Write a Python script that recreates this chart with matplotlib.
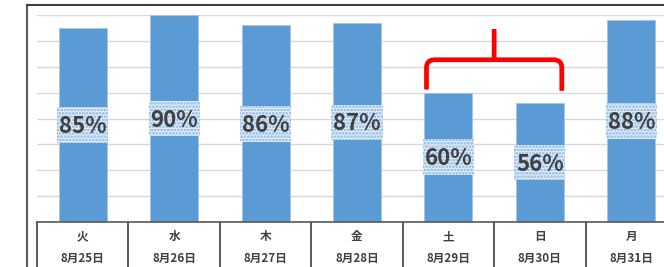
import matplotlib
matplotlib.use("Agg")
import matplotlib.pyplot as plt
from matplotlib.path import Path
from matplotlib.patches import PathPatch, Rectangle
from matplotlib.lines import Line2D

plt.rcParams['font.family'] = ['Noto Sans CJK JP', 'DejaVu Sans']
plt.rcParams['hatch.linewidth'] = 1.3

weekdays = ['火', '水', '木', '金', '土', '日', '月']
dates = ['8月25日', '8月26日', '8月27日', '8月28日', '8月29日', '8月30日', '8月31日']
rates = [0.85, 0.90, 0.86, 0.87, 0.60, 0.56, 0.88]
y_min, y_max, y_step = 0.1, 0.9, 0.1

W, H = 664, 267
fig = plt.figure(figsize=(W / 100, H / 100), dpi=100)
ax = fig.add_axes([37 / W, 45 / H, 640 / W, 207 / H])

x = list(range(len(rates)))
ax.bar(x, rates, width=0.525, color='#5b9bd5', edgecolor='#a5c6e8', linewidth=0.6, zorder=2)
ax.set_xlim(-0.5, len(rates) - 0.5)
ax.set_ylim(y_min, y_max)
n_ticks = int(round((y_max - y_min) / y_step)) + 1
ax.set_yticks([y_min + i * y_step for i in range(n_ticks)])
ax.yaxis.grid(True, color='#d9d9d9', linewidth=1.0, zorder=0)
ax.set_axisbelow(True)
ax.tick_params(left=False, bottom=False, labelleft=False, labelbottom=False)
for s in ['left', 'right', 'top']:
    ax.spines[s].set_visible(False)
ax.spines['bottom'].set_color('#595959')
ax.spines['bottom'].set_linewidth(1.2)

# data labels centred on the visible part of each bar
box_w, box_h = 0.56, 0.138
for xi, v in zip(x, rates):
    yc = (y_min + v) / 2
    ax.add_patch(Rectangle((xi - box_w / 2, yc - box_h / 2), box_w, box_h,
                           facecolor='#e4eef9', edgecolor='#82b2e3', linewidth=0,
                           hatch='.....', zorder=3))
    ax.text(xi, yc - 0.031, f'{v * 100:.0f}%', ha='center', va='baseline',
            fontsize=16, fontweight='bold', color='#404040', zorder=4)

# category table below the axis
xt = ax.get_xaxis_transform()
for xi, (wd, dt) in enumerate(zip(weekdays, dates)):
    ax.text(xi, -0.072, wd, transform=xt, ha='center', va='center',
            fontsize=8.4, fontweight='bold', color='#404040', clip_on=False)
    ax.text(xi, -0.174, dt, transform=xt, ha='center', va='center',
            fontsize=8.4, fontweight='bold', color='#404040', clip_on=False)
for k in range(len(rates) + 1):
    ax.plot([k - 0.5, k - 0.5], [0, -0.25], transform=xt, color='#404040',
            linewidth=1.2, clip_on=False)

# red hand-drawn brace over weekend bars
xl, xr, xm = 3.76, 5.24, 4.5
yb, yh, yt = 0.612, 0.727, 0.846
rx, ry = 0.09, 0.03
verts = [(xl, yb), (xl, yh - ry), (xl, yh), (xl + rx, yh), (xm, yh), (xm, yt),
         (xm, yh), (xr - rx, yh), (xr, yh), (xr, yh - ry), (xr, yb - 0.005)]
codes = [Path.MOVETO, Path.LINETO, Path.CURVE3, Path.CURVE3, Path.LINETO, Path.LINETO,
         Path.MOVETO, Path.LINETO, Path.CURVE3, Path.CURVE3, Path.LINETO]
ax.add_patch(PathPatch(Path(verts, codes), facecolor='none', edgecolor='#ff0000',
                       linewidth=3.4, capstyle='butt', joinstyle='round', zorder=5))

# chart frame lines
fig.add_artist(Line2D([27 / W, 27 / W], [0, 1 - 5 / H], color='#595959', linewidth=1.5))
fig.add_artist(Line2D([27 / W, 1], [1 - 5 / H, 1 - 5 / H], color='#404040', linewidth=1.5))

fig.savefig('out.png', dpi=100)
